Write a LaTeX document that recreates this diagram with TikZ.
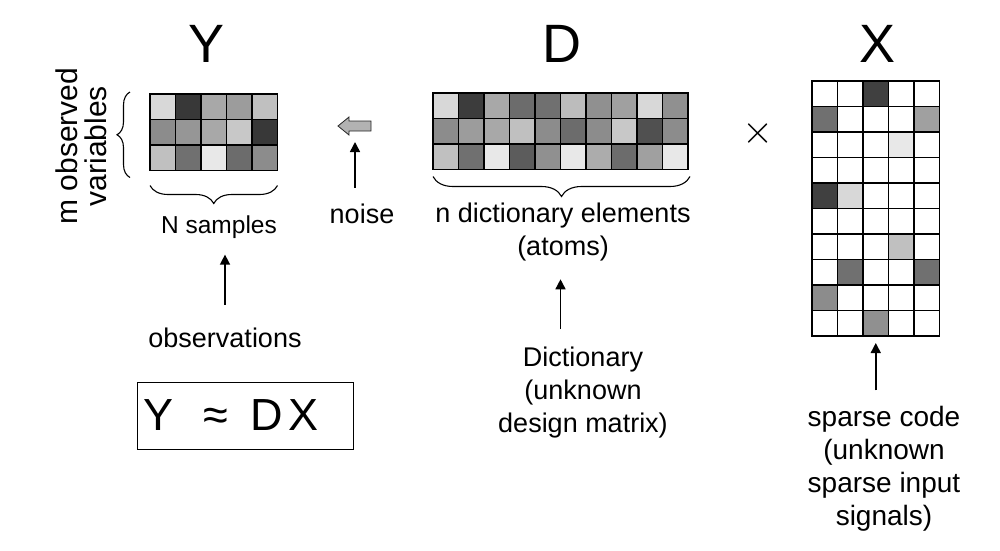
\documentclass[tikz,border=0pt]{standalone}
\usepackage{fix-cm}
\usepackage{fontspec}
\setmainfont{Liberation Sans}
\usetikzlibrary{arrows.meta, positioning, decorations.pathreplacing}
\definecolor{noisegray}{RGB}{178,178,178}

\begin{document}
\begin{tikzpicture}
  [x=1pt, y=-1pt,
   cell/.style={draw, line width=1.2pt, minimum size=25.5pt, inner sep=0pt, outer sep=0pt},
   title/.style={font=\fontsize{54}{60}\selectfont, inner sep=0pt},
   txt/.style={font=\fontsize{27}{33}\selectfont, align=center, inner sep=0pt},
   brace/.style={decorate, decoration={brace, amplitude=#1}, line width=1.1pt},
   arr/.style={-{Triangle[length=10pt, width=10pt]}, line width=1.5pt}]

  \useasboundingbox (0,0) rectangle (1000,550);

  % Y: observations
  \foreach \r/\vals in {1/{216,56,168,156,192},
                        2/{140,150,168,200,56},
                        3/{192,112,232,108,140}}
    \foreach \v [count=\c] in \vals {
      \definecolor{cellcol}{RGB}{\v,\v,\v}
      \node[cell, fill=cellcol] (y-\r-\c) at (150+25.5*\c-12.75, 94+25.5*\r-12.75) {};
    }

  % D: dictionary
  \foreach \r/\vals in {1/{216,60,168,108,112,188,144,160,216,144},
                        2/{140,156,168,192,140,108,140,200,80,140},
                        3/{192,112,232,92,144,232,172,108,160,232}}
    \foreach \v [count=\c] in \vals {
      \definecolor{cellcol}{RGB}{\v,\v,\v}
      \node[cell, fill=cellcol] (d-\r-\c) at (433+25.5*\c-12.75, 93+25.5*\r-12.75) {};
    }

  % X: sparse code
  \foreach \r/\vals in {1/{255,255,64,255,255},
                        2/{112,255,255,255,160},
                        3/{255,255,255,232,255},
                        4/{255,255,255,255,255},
                        5/{64,216,255,255,255},
                        6/{255,255,255,255,255},
                        7/{255,255,255,192,255},
                        8/{255,112,255,255,112},
                        9/{140,255,255,255,255},
                        10/{255,255,144,255,255}}
    \foreach \v [count=\c] in \vals {
      \definecolor{cellcol}{RGB}{\v,\v,\v}
      \node[cell, fill=cellcol] (x-\r-\c) at (812+25.5*\c-12.75, 81+25.5*\r-12.75) {};
    }

  % titles
  \node[title, anchor=base] (ytitle) at (207,62) {Y};
  \node[title, anchor=base] (dtitle) at (562,62) {D};
  \node[title, anchor=base] (xtitle) at (877,62) {X};
  \node[font=\fontsize{40}{40}\selectfont, inner sep=0pt] (times) at (758,133) {$\times$};

  % braces
  \draw[brace=13pt] ([xshift=-20pt, yshift=-7pt]y-3-1.south west) -- ([xshift=-20pt, yshift=2pt]y-1-1.north west);
  \draw[brace=18pt, decoration={mirror}] ([yshift=-15pt]y-3-1.south west) -- ([yshift=-15pt]y-3-5.south east);
  \draw[brace=20pt, decoration={mirror}] ([yshift=-7pt]d-3-1.south west) -- ([yshift=-7pt, xshift=2pt]d-3-10.south east);

  % labels
  \node[txt, rotate=90, font=\fontsize{30}{29}\selectfont] (mvars) at (81,146) {m observed\\variables};
  \node[txt, font=\fontsize{24.5}{30}\selectfont] (nsamp) at (219,227) {N samples};
  \node[txt] (noise) at (362,214) {noise};
  \node[txt] (atoms) at (563,232) {n dictionary elements\\(atoms)};
  \node[txt] (obs) at (225,338) {observations};
  \node[txt] (dict) at (583,393) {Dictionary\\(unknown\\design matrix)};
  \node[txt, font=\fontsize{28}{33}\selectfont] (code) at (884,469) {sparse code\\(unknown\\sparse input\\signals)};

  % noise block arrow
  \filldraw[fill=noisegray, draw=black!85, line width=0.8pt]
    (371,121) -- (349,121) -- (349,117) -- (338,126) -- (349,135) -- (349,131) -- (371,131) -- cycle;
  \coordinate (noiseblk) at (355,142);

  % arrows
  \draw[arr] ([yshift=23pt]obs.north) -- ([yshift=-16pt]nsamp.south -| obs.north);
  \draw[arr] ([yshift=16pt]noise.north -| noiseblk) -- (noiseblk);
  \draw[arr] ([yshift=18pt]dict.north -| d-3-5.south east) -- ([yshift=-18pt]atoms.south -| d-3-5.south east);
  \draw[arr] ([yshift=16pt]code.north -| x-10-3.south) -- ([yshift=-7pt]x-10-3.south);

  % model
  \node[draw, line width=1pt, minimum height=67pt, text width=204pt, inner xsep=6pt, inner ysep=0pt,
        align=left, font=\fontsize{45}{45}\selectfont] (eqbox) at (245,415.5) {Y\hspace{0.68em}≈\hspace{0.5em}D\hspace{0.12em}X};
\end{tikzpicture}
\end{document}
